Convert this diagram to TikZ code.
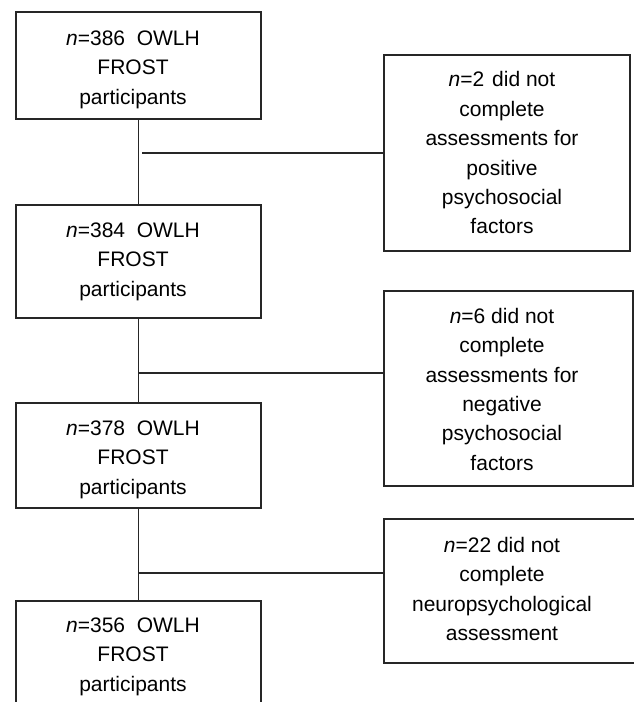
\documentclass[tikz,border=0pt]{standalone}
\usepackage{fontspec}
\setmainfont{Liberation Sans}
\newcommand\firststrut{\rule{0pt}{16pt}}
\tikzset{
  box/.style={draw=black!85,line width=1.1pt,inner sep=0pt,outer sep=0pt},
  conn/.style={draw=black!85,line width=1.1pt},
  txt/.style={font=\fontsize{21}{29.4}\selectfont,align=center,inner sep=0pt,anchor=north}
}
\begin{document}
\begin{tikzpicture}[x=1pt,y=-1pt]
\clip (0,0) rectangle (634,702);
% left boxes
\node[box,minimum width=245pt,minimum height=107pt] (b1) at (138.5,65.5) {};
\node[box,minimum width=245pt,minimum height=113pt] (b2) at (138.5,261.5) {};
\node[box,minimum width=245pt,minimum height=105pt] (b3) at (138.5,455.5) {};
\node[box,minimum width=245pt,minimum height=119pt] (b4) at (138.5,660.5) {};
% right boxes
\node[box,minimum width=246pt,minimum height=196pt] (r1) at (507,153) {};
\node[box,minimum width=249pt,minimum height=195pt] (r2) at (508.5,388.5) {};
\node[box,minimum width=260pt,minimum height=144pt] (r3) at (514,591) {};
% texts
\node[txt] (t1) at (133,29) {\firststrut\textit{n}=386\ \ OWLH\\FROST\\participants};
\node[txt] (t2) at (133,221) {\firststrut\textit{n}=384\ \ OWLH\\FROST\\participants};
\node[txt] (t3) at (133,419) {\firststrut\textit{n}=378\ \ OWLH\\FROST\\participants};
\node[txt] (t4) at (133,616) {\firststrut\textit{n}=356\ \ OWLH\\FROST\\participants};
\node[txt] (t5) at (502,70.7) {\firststrut\textit{n}=2\ \kern2pt did not\\complete\\assessments for\\positive\\psychosocial\\factors};
\node[txt] (t6) at (502,307) {\firststrut\textit{n}=6 did not\\complete\\assessments for\\negative\\psychosocial\\factors};
\node[txt] (t7) at (502,536) {\firststrut\textit{n}=22 did not\\complete\\neuropsychological\\assessment};
% connectors
\draw[conn] (b1.south) -- (b2.north);
\draw[conn] (b2.south) -- (b3.north);
\draw[conn] (b3.south) -- (b4.north);
\coordinate (j1) at (142,153);
\coordinate (j2) at (138.5,373);
\coordinate (j3) at (138.5,573);
\draw[conn] (j1) -- (j1 -| r1.west);
\draw[conn] (j2) -- (j2 -| r2.west);
\draw[conn] (j3) -- (j3 -| r3.west);
\end{tikzpicture}
\end{document}
